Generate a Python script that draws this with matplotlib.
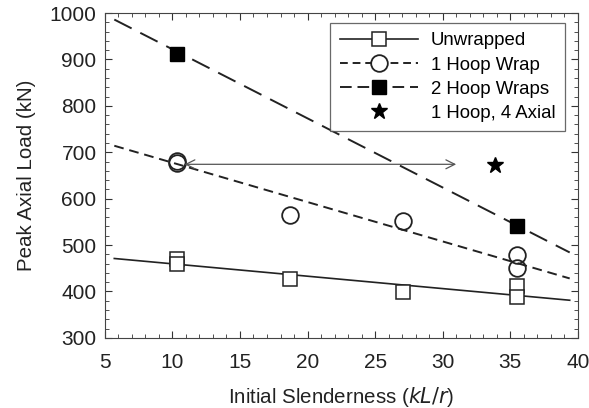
import matplotlib.pyplot as plt
import numpy as np

plt.rcParams['font.family'] = ['Liberation Sans', 'DejaVu Sans']

# measured points
unw_x = [10.35, 10.35, 18.7, 27.1, 35.5, 35.5]
unw_y = [470, 459, 427, 399, 411, 389]
h1_x = [10.35, 10.35, 18.7, 27.1, 35.5, 35.5]
h1_y = [681, 676, 565, 551, 479, 450]
h2_x = [10.35, 35.5]
h2_y = [912, 540]
star_x = [33.9]
star_y = [673]

# fitted trend lines (end points)
fit_x = [5.7, 39.4]
unw_fit = [471, 381]
h1_fit = [714, 428]
h2_fit = [986, 484]

fig = plt.figure(figsize=(5.89, 4.08), dpi=100)
ax = fig.add_axes([0.178, 0.172, 0.803, 0.796])

ax.plot(fit_x, unw_fit, '-', color='#222222', lw=1.2)
ax.plot(fit_x, h1_fit, '--', color='#222222', lw=1.4, dashes=(5, 3))
ax.plot(fit_x, h2_fit, '--', color='#222222', lw=1.4, dashes=(10, 5))

ax.plot(unw_x, unw_y, 's', mfc='white', mec='#222222', ms=10, mew=1.1, zorder=3)
ax.plot(h1_x, h1_y, 'o', mfc='none', mec='#222222', ms=12, mew=1.3, zorder=3)
ax.plot(h2_x, h2_y, 's', mfc='black', mec='black', ms=10, zorder=3)
ax.plot(star_x, star_y, '*', color='black', ms=12, zorder=3)

ax.annotate('', xy=(10.9, 674), xytext=(31.0, 674),
            arrowprops=dict(arrowstyle='<->', color='#555555', lw=0.9,
                            mutation_scale=16, shrinkA=0, shrinkB=0))

# legend proxies
hu, = ax.plot([], [], '-s', color='#222222', mfc='white', mec='#222222', ms=10, mew=1.1, lw=1.2)
hc, = ax.plot([], [], '--o', color='#222222', mfc='white', mec='#222222', ms=12, mew=1.3, lw=1.4, dashes=(4, 2.5))
hs, = ax.plot([], [], '--s', color='#222222', mfc='black', mec='black', ms=10, lw=1.4, dashes=(6, 3))
hst, = ax.plot([], [], '*', color='black', ms=12, ls='none')
leg = ax.legend([hu, hc, hs, hst], ['Unwrapped', '1 Hoop Wrap', '2 Hoop Wraps', '1 Hoop, 4 Axial'],
                loc='upper right', fontsize=13.4, frameon=True, fancybox=False,
                edgecolor='#444444', handlelength=4.2, handletextpad=0.7,
                borderpad=0.5, labelspacing=0.38, borderaxespad=0,
                bbox_to_anchor=(0.9725, 0.969))
leg.get_frame().set_linewidth(0.9)

ax.set_xlim(5, 40)
ax.set_ylim(300, 1000)
ax.set_xticks(np.arange(5, 41, 5))
ax.set_yticks(np.arange(300, 1001, 100))
ax.set_xticks(np.arange(5, 41, 1), minor=True)
ax.set_yticks(np.arange(300, 1001, 20), minor=True)
ax.tick_params(which='both', direction='in', top=True, right=True, colors='#333333',
               labelsize=15, labelcolor='#222222')
ax.tick_params(which='major', length=5)
ax.tick_params(which='minor', length=3)
ax.tick_params(axis='x', which='major', pad=11)
ax.tick_params(axis='y', which='major', pad=6)
for s in ax.spines.values():
    s.set_color('#444444')

ax.set_xlabel('Initial Slenderness ($\\mathit{kL/r}$)', fontsize=14.8, color='#222222', labelpad=9)
ax.set_ylabel('Peak Axial Load (kN)', fontsize=14.8, color='#222222', labelpad=10)

fig.savefig('out.png', dpi=100)
